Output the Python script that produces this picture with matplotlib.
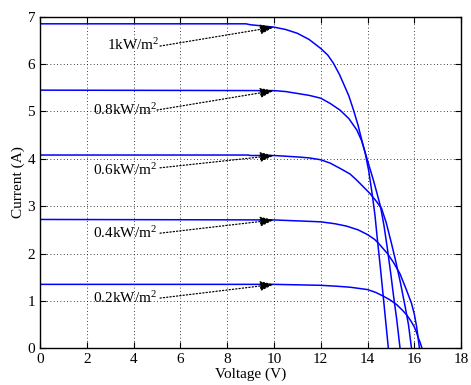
import matplotlib
matplotlib.use("Agg")
import matplotlib.pyplot as plt

plt.rcParams['font.family'] = ['Liberation Serif', 'DejaVu Serif']
plt.rcParams['mathtext.fontset'] = 'custom'
plt.rcParams['mathtext.rm'] = 'Liberation Serif'
plt.rcParams['mathtext.default'] = 'regular'

# ---- data ----
labels = ['1kW/m$^2$', '0.8kW/m$^2$', '0.6kW/m$^2$', '0.4kW/m$^2$', '0.2kW/m$^2$']

v_1000 = [0, 8.8, 9.0, 10, 10.5, 11, 11.5, 12, 12.3, 12.54, 12.8, 12.97, 13.2, 13.4, 13.6,
          13.75, 13.9, 14.05, 14.2, 14.32, 14.42, 14.55, 14.65, 14.77, 14.89]
i_1000 = [6.85, 6.85, 6.83, 6.78, 6.73, 6.65, 6.52, 6.33, 6.19, 6.02, 5.78, 5.59, 5.33, 5.03, 4.70,
          4.40, 4.12, 3.75, 3.25, 2.80, 2.30, 1.70, 1.20, 0.60, 0]

v_800 = [0, 10, 10.5, 11, 11.5, 12, 12.4, 12.82, 13.2, 13.54, 13.75, 13.89, 14.05, 14.25, 14.4,
         14.55, 14.7, 14.85, 15.0, 15.1, 15.25, 15.39]
i_800 = [5.45, 5.44, 5.42, 5.38, 5.34, 5.28, 5.17, 5.03, 4.85, 4.61, 4.38, 4.15, 3.88, 3.55, 3.28,
         3.0, 2.6, 2.1, 1.55, 1.15, 0.6, 0]

v_600 = [0, 8.9, 9.0, 10, 11, 11.5, 12, 12.4, 12.82, 13.25, 13.54, 13.8, 14.1, 14.35, 14.6, 14.8,
         15.03, 15.2, 15.4, 15.6, 15.75, 15.88]
i_600 = [4.08, 4.08, 4.07, 4.07, 4.04, 4.02, 3.98, 3.91, 3.80, 3.68, 3.55, 3.42, 3.27, 3.12, 2.95, 2.65,
         2.2, 1.85, 1.4, 0.9, 0.5, 0]

v_400 = [0, 10, 11, 12, 12.6, 13.1, 13.6, 14.0, 14.3, 14.5, 14.85, 15.1, 15.39, 15.65, 15.88, 16.0,
         16.1, 16.22]
i_400 = [2.72, 2.71, 2.69, 2.67, 2.63, 2.58, 2.50, 2.40, 2.30, 2.20, 2.0, 1.82, 1.57, 1.25, 0.95, 0.72,
         0.45, 0]

v_200 = [0, 10, 11, 12, 12.7, 13.25, 13.7, 14.0, 14.35, 14.68, 15.0, 15.25, 15.5, 15.68, 15.85, 16.0,
         16.1, 16.17, 16.25, 16.33]
i_200 = [1.35, 1.35, 1.34, 1.33, 1.31, 1.29, 1.26, 1.24, 1.18, 1.10, 1.01, 0.92, 0.80, 0.70, 0.58, 0.45,
         0.33, 0.22, 0.12, 0]

arrow_tip_v = 10
arrow_tip_i = [6.78, 5.44, 4.07, 2.71, 1.35]
arrow_tail_v = [5.13, 5.0, 5.13, 5.13, 5.13]
arrow_tail_i = [6.38, 5.03, 3.81, 2.43, 1.06]
text_x = [2.85, 2.25, 2.25, 2.25, 2.25]
text_y = [6.40, 5.04, 3.76, 2.43, 1.06]

xticks = list(range(0, 19, 2))
yticks = list(range(0, 8))

fig = plt.figure(figsize=(4.71, 3.85), dpi=100)
ax = fig.add_axes([0.085, 0.0953, 0.894, 0.8613])

for v, i in [(v_1000, i_1000), (v_800, i_800), (v_600, i_600), (v_400, i_400), (v_200, i_200)]:
    ax.plot(v, i, color='#0000ff', lw=1.1)

for k in range(len(labels)):
    ax.annotate('', xy=(arrow_tip_v, arrow_tip_i[k]),
                xytext=(arrow_tail_v[k], arrow_tail_i[k]),
                arrowprops=dict(arrowstyle='-|>,head_length=0.7,head_width=0.25',
                                linestyle=':', color='k', lw=0.9,
                                shrinkA=0, shrinkB=0, mutation_scale=12))
    ax.text(text_x[k], text_y[k], labels[k], fontsize=11, ha='left', va='center')

ax.set_xlim(0, 18)
ax.set_ylim(0, 7)
ax.set_xticks(xticks)
ax.set_yticks(yticks)
ax.tick_params(direction='in', top=True, right=True, length=4, labelsize=11, width=0.8)
ax.grid(True, color='k', linestyle=(0, (1, 3)), lw=0.6)
for s in ax.spines.values():
    s.set_linewidth(1.0)
ax.set_xlabel('Voltage (V)', fontsize=11, labelpad=1)
ax.set_ylabel('Current (A)', fontsize=11, labelpad=2)

fig.savefig('out.png', dpi=100)
